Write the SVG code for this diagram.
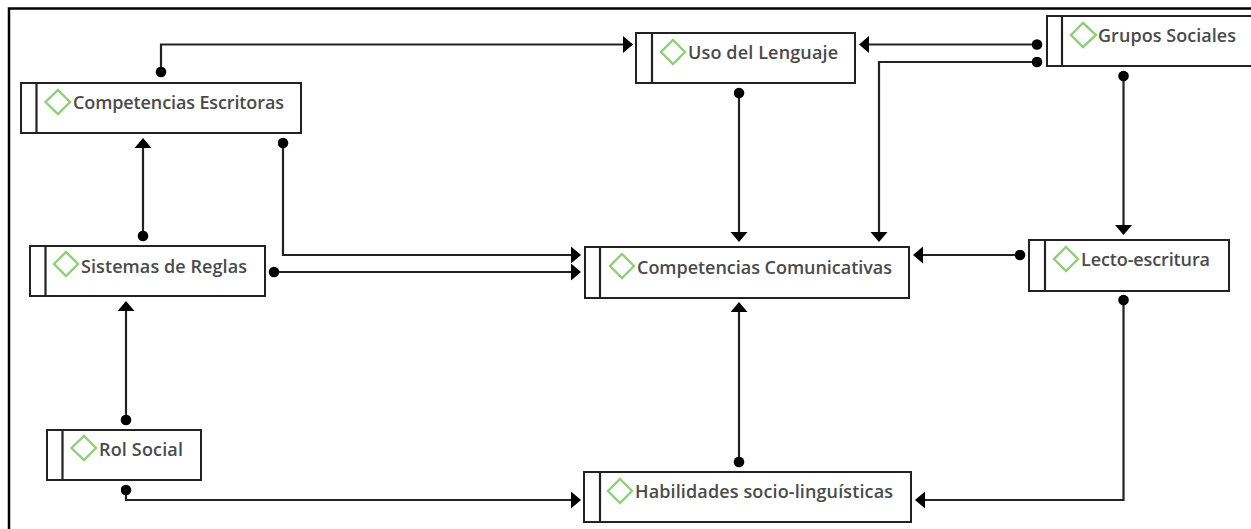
<svg xmlns="http://www.w3.org/2000/svg" width="1251" height="529" viewBox="0 0 1251 529">
<style>
.b{fill:#fff;stroke:#222;stroke-width:2}
.d{fill:none;stroke:#8fcf7a;stroke-width:2.4}
.t{font-family:"Open Sans","Noto Sans",sans-serif;font-size:18px;font-weight:600;fill:#4a4a4a}
.c{fill:none;stroke:#222;stroke-width:2.200}
</style>
<defs>
<marker id="a" markerUnits="userSpaceOnUse" markerWidth="12" markerHeight="18" refX="4" refY="8.500" orient="auto"><path d="M0 0L0 17L10 8.500Z" fill="#000"/></marker>
<marker id="o" markerUnits="userSpaceOnUse" markerWidth="12" markerHeight="12" refX="5.500" refY="5.500" orient="auto-start-reverse"><circle cx="5.500" cy="5.500" r="5.300" fill="#000"/></marker>
</defs>
<rect width="1251" height="529" fill="#fff"/>
<path d="M9 529V8.500H1251" fill="none" stroke="#000" stroke-width="2.500"/>
<g id="connectors">
<path class="c" marker-start="url(#o)" marker-end="url(#a)" d="M161 72V44.500H627"/>
<path class="c" marker-start="url(#o)" marker-end="url(#a)" d="M1037 44.500H865"/>
<path class="c" marker-start="url(#o)" marker-end="url(#a)" d="M1037 62H879V236"/>
<path class="c" marker-start="url(#o)" marker-end="url(#a)" d="M739 93V236"/>
<path class="c" marker-start="url(#o)" marker-end="url(#a)" d="M1123.500 76V229"/>
<path class="c" marker-start="url(#o)" marker-end="url(#a)" d="M1020 255H919"/>
<path class="c" marker-start="url(#o)" marker-end="url(#a)" d="M1123.500 300V500H921"/>
<path class="c" marker-start="url(#o)" marker-end="url(#a)" d="M739 462V308"/>
<path class="c" marker-start="url(#o)" marker-end="url(#a)" d="M283 143V255H575"/>
<path class="c" marker-start="url(#o)" marker-end="url(#a)" d="M274 272H575"/>
<path class="c" marker-start="url(#o)" marker-end="url(#a)" d="M143 236V144"/>
<path class="c" marker-start="url(#o)" marker-end="url(#a)" d="M126 420V307"/>
<path class="c" marker-start="url(#o)" marker-end="url(#a)" d="M126 490V500H575"/>
</g>
<g id="n1"><rect class="b" x="21" y="83" width="280" height="50"/><path class="c" d="M36.500 83V133"/><path class="d" d="M58 90L70 102L58 114L45.500 102Z"/><text class="t" x="73" y="109" textLength="211">Competencias Escritoras</text></g>
<g id="n2"><rect class="b" x="636" y="33" width="219" height="50"/><path class="c" d="M652 33V83"/><path class="d" d="M673 40L685 52L673 64L661 52Z"/><text class="t" x="688" y="59" textLength="150">Uso del Lenguaje</text></g>
<g id="n3"><rect class="b" x="1047" y="16" width="210" height="50"/><path class="c" d="M1062 16V66"/><path class="d" d="M1083 23L1096 35L1083 47L1071 35Z"/><text class="t" x="1098" y="42" textLength="138">Grupos Sociales</text></g>
<g id="n4"><rect class="b" x="30" y="246" width="235" height="50"/><path class="c" d="M45.500 246V296"/><path class="d" d="M66 252L78 264L66 276L54 264Z"/><text class="t" x="81" y="273" textLength="166">Sistemas de Reglas</text></g>
<g id="n5"><rect class="b" x="585" y="247" width="324" height="51"/><path class="c" d="M600 247V298"/><path class="d" d="M622 254L634 266L622 278L610 266Z"/><text class="t" x="637" y="274" textLength="255">Competencias Comunicativas</text></g>
<g id="n6"><rect class="b" x="1029" y="240" width="200" height="51"/><path class="c" d="M1045 240V291"/><path class="d" d="M1066 247L1078 259L1066 271L1054 259Z"/><text class="t" x="1081" y="266" textLength="129">Lecto-escritura</text></g>
<g id="n7"><rect class="b" x="47" y="430" width="154" height="50"/><path class="c" d="M62.500 430V480"/><path class="d" d="M84 436L96 448L84 460L71.500 448Z"/><text class="t" x="99" y="456" textLength="84">Rol Social</text></g>
<g id="n8"><rect class="b" x="584" y="472" width="327" height="50"/><path class="c" d="M600 472V522"/><path class="d" d="M620 479L632 491L620 503L608 491Z"/><text class="t" x="635" y="498" textLength="258">Habilidades socio-linguísticas</text></g>
</svg>
